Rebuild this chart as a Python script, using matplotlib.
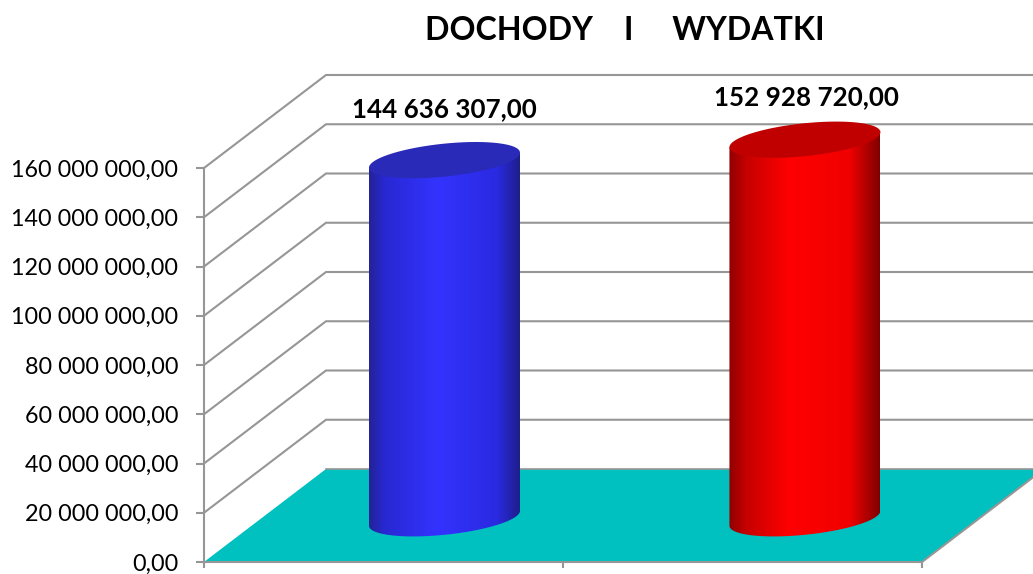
#!/usr/bin/env python3
"""Dochody i wydatki: dwa walce 3D, narysowane na zwyklych osiach matplotlib."""

import matplotlib
matplotlib.use("Agg")
import matplotlib.pyplot as plt
import numpy as np
from matplotlib.colors import LinearSegmentedColormap
from matplotlib.patches import Polygon

CATEGORIES = ["DOCHODY", "WYDATKI"]
VALUES = [144636307.00, 152928720.00]
VALUE_LABELS = ["144 636 307,00", "152 928 720,00"]
Y_TICKS = [0, 20e6, 40e6, 60e6, 80e6, 100e6, 120e6, 140e6, 160e6]
Y_TICK_LABELS = [
    "0,00", "20 000 000,00", "40 000 000,00", "60 000 000,00", "80 000 000,00",
    "100 000 000,00", "120 000 000,00", "140 000 000,00", "160 000 000,00",
]
TITLE = "DOCHODY    I     WYDATKI"

# geometria w pikselach obrazka
W, H = 1033, 574
X0_PX, X2_PX = 204, 922
Y0_PX, YMAX_PX = 562, 168
DEPTH_X_PX, DEPTH_Y_PX = 122, 93

GRID = "#969696"
FLOOR = "#00c0c0"
STYLES = [
    {"top": "#2a2ab8", "stops": [(0, "#232396"), (0.1, "#2828d2"), (0.45, "#3333ff"),
                                 (0.85, "#2a2ae1"), (1, "#1e1e8c")]},
    {"top": "#c00000", "stops": [(0, "#900000"), (0.12, "#c80000"), (0.4, "#ff0000"),
                                 (0.8, "#f00000"), (1, "#800000")]},
]
LABEL_OFFSETS = [(0, 53), (2, 45)]

sx = 2 / (X2_PX - X0_PX)
sy = Y_TICKS[-1] / (Y0_PX - YMAX_PX)
dx = DEPTH_X_PX * sx
dy = DEPTH_Y_PX * sy

plt.rcParams["font.family"] = ["Lato", "DejaVu Sans"]

fig = plt.figure(figsize=(W / 100, H / 100), dpi=100)
ax = fig.add_axes([0, 0, 1, 1])
ax.patch.set_alpha(0)


def cylinder(cx, v, style):
    a, b, tilt = 75.5 * sx, 16.5 * sy, 7.5 * sy
    base = Y_TICKS[0] + 0.47 * dy
    t = np.linspace(np.pi, 2 * np.pi, 80)
    arc_x = cx + a * np.cos(t)
    arc_y = base + tilt * np.cos(t) + b * np.sin(t)
    # perspektywa: gorna podstawa lezy ok. 2 px wyzej niz wynika ze skali
    top = base + v + 2.0 * sy
    body = np.vstack([[cx - a, top - tilt], np.column_stack([arc_x, arc_y]), [cx + a, top + tilt]])

    cmap = LinearSegmentedColormap.from_list("walec", style["stops"])
    im = ax.imshow(np.linspace(0, 1, 256).reshape(1, -1), cmap=cmap, aspect="auto",
                   extent=(cx - a, cx + a, base - 40 * sy, top + 20 * sy), zorder=3,
                   interpolation="bilinear")
    clip = Polygon(body, closed=True, transform=ax.transData, fc="none", ec="none")
    ax.add_patch(clip)
    im.set_clip_path(clip)

    t = np.linspace(0, 2 * np.pi, 160)
    ell = np.column_stack([cx + a * np.cos(t), top + tilt * np.cos(t) + b * np.sin(t)])
    ax.add_patch(Polygon(ell, closed=True, fc=style["top"], ec="none", zorder=4))


# siatka: sciana boczna i tylna
for v in Y_TICKS[1:]:
    ax.plot([0, dx, 2 + dx], [v, v + dy, v + dy], color=GRID, lw=1.5, zorder=1,
            solid_joinstyle="miter")

# podloga
ax.add_patch(Polygon([(0, 0), (2, 0), (2 + dx, dy), (dx, dy)], closed=True, fc=FLOOR, ec="none", zorder=2))
ax.plot([dx, 2 + dx], [dy, dy], color=GRID, lw=1.2, zorder=2)
ax.plot([2, 2 + dx], [0, dy], color=GRID, lw=1.5, zorder=2)

for i, (name, value) in enumerate(zip(CATEGORIES, VALUES)):
    cx = i + 0.5 + dx / 2 + (0.004 if i == 1 else 0)
    cylinder(cx, value, STYLES[i])
    off = LABEL_OFFSETS[i]
    ax.annotate(VALUE_LABELS[i], (cx, 0.47 * dy + value), xytext=(off[0] * 0.72, off[1] * 0.72),
                textcoords="offset points", ha="center", va="center",
                fontsize=18.7, fontweight="bold", color="black", zorder=5)

ax.set_xlim((0 - X0_PX) * sx, (W - X0_PX) * sx)
ax.set_ylim((Y0_PX - H) * sy, Y0_PX * sy)

for side in ("top", "right"):
    ax.spines[side].set_visible(False)
ax.spines["left"].set_position(("data", 0))
ax.spines["bottom"].set_position(("data", 0))
ax.spines["left"].set_bounds(0, Y_TICKS[-1])
ax.spines["bottom"].set_bounds(0, 2)
for side in ("left", "bottom"):
    ax.spines[side].set_color(GRID)
    ax.spines[side].set_linewidth(1.5)
    ax.spines[side].set_zorder(2.5)

ax.set_yticks(Y_TICKS)
ax.set_yticklabels(Y_TICK_LABELS)
ax.set_xticks([0, 1, 2])
ax.set_xticklabels([])
ax.tick_params(axis="y", direction="out", length=6, width=1.5, color=GRID, labelsize=16.8, pad=12.5)
ax.tick_params(axis="x", direction="out", length=4.5, width=1.5, color=GRID)

fig.text(625 / W, 1 - 30 / H, TITLE, ha="center", va="center", fontsize=23.1, fontweight="bold", color="black")

fig.savefig("out.png", dpi=100)
